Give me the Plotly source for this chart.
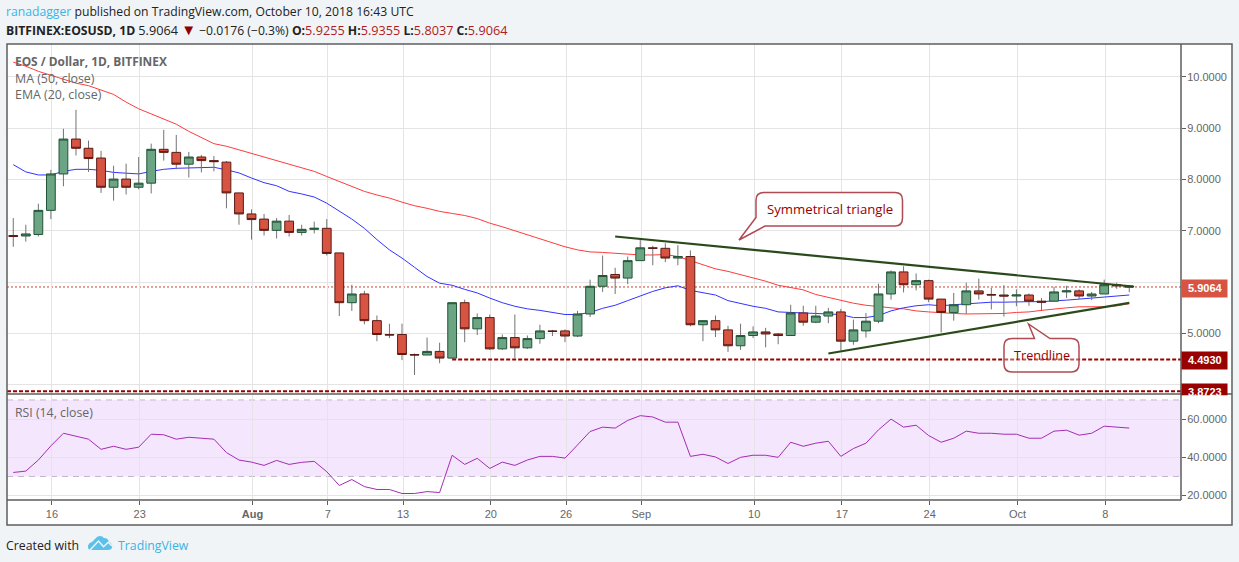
import pandas as pd
import plotly.graph_objects as go

W, H = 1239, 562
PANE_L, PANE_R, PANE_T, PANE_SPLIT, PANE_B = 7, 1181, 44, 394, 500
FRAME_R, FRAME_B = 1232, 525

dates = pd.date_range("2018-07-13", periods=90).strftime("%Y-%m-%d").tolist()

opens = [6.91, 6.90, 6.93, 7.40, 8.11, 8.79, 8.61, 8.42, 7.85, 8.01, 7.85, 7.93, 8.59, 8.53, 8.30, 8.44, 8.37, 8.34, 7.74,
         7.33, 7.23, 7.01, 7.19, 6.97, 7.03, 7.05, 6.57, 5.60, 5.77, 5.25, 4.98, 4.98, 4.59, 4.58, 4.65, 4.52, 5.60, 5.09, 5.31, 4.70, 4.92, 4.72, 4.90, 5.05, 5.05, 4.95, 5.38, 5.92, 6.15, 6.08,
         6.42, 6.67, 6.66, 6.47, 6.50, 5.17, 5.25, 5.07, 4.76, 4.96, 5.03, 4.99, 4.96, 5.40, 5.22, 5.34, 5.42, 4.85, 5.05, 5.24, 5.77, 6.20, 5.95, 6.03, 5.67, 5.41, 5.56, 5.83, 5.76, 5.75,
         5.73, 5.75, 5.63, 5.63, 5.81, 5.83, 5.73, 5.77, 5.95, 5.9255]
highs = [7.25, 7.12, 7.53, 8.19, 8.99, 9.36, 8.76, 8.56, 8.27, 8.31, 8.44, 8.70, 8.97, 8.87, 8.54, 8.48, 8.46, 8.36, 7.74,
         7.42, 7.33, 7.25, 7.31, 7.12, 7.18, 7.23, 6.57, 5.95, 5.83, 5.35, 5.19, 5.19, 4.61, 4.92, 4.82, 5.60, 5.66, 5.39, 5.37, 4.98, 5.37, 4.96, 5.17, 5.07, 5.08, 5.44, 6.05, 6.52, 6.28, 6.50,
         6.85, 6.71, 6.76, 6.72, 6.62, 5.25, 5.35, 5.15, 5.19, 5.14, 5.11, 5.01, 5.56, 5.54, 5.54, 5.50, 5.48, 5.27, 5.40, 5.97, 6.23, 6.31, 6.17, 6.05, 5.67, 5.79, 5.99, 6.07, 5.89, 5.94,
         5.86, 5.78, 5.69, 5.91, 5.93, 5.86, 5.81, 6.05, 5.99, 5.9355]
lows = [6.69, 6.79, 6.89, 7.23, 7.87, 8.47, 8.15, 7.74, 7.59, 7.71, 7.81, 7.73, 8.37, 8.20, 8.04, 8.14, 8.16, 7.44, 7.12,
        6.83, 6.91, 6.85, 6.89, 6.91, 6.95, 6.52, 5.34, 5.44, 5.18, 4.85, 4.91, 4.48, 4.19, 4.58, 4.42, 4.51, 4.83, 4.97, 4.68, 4.68, 4.52, 4.70, 4.80, 4.95, 4.83, 4.93, 5.32, 5.81, 5.77, 5.96,
        6.42, 6.33, 6.39, 6.33, 5.14, 4.85, 4.93, 4.64, 4.68, 4.91, 4.73, 4.79, 4.96, 5.15, 5.20, 5.20, 4.67, 4.78, 4.92, 5.20, 5.66, 5.80, 5.84, 5.61, 5.02, 5.25, 5.38, 5.66, 5.47, 5.33,
        5.53, 5.54, 5.44, 5.63, 5.69, 5.67, 5.65, 5.77, 5.87, 5.8037]
closes = [6.89, 6.94, 7.40, 8.11, 8.79, 8.61, 8.41, 7.85, 8.01, 7.85, 7.93, 8.59, 8.53, 8.30, 8.44, 8.37, 8.35, 7.74, 7.33,
          7.22, 7.01, 7.19, 6.97, 7.03, 7.05, 6.56, 5.60, 5.77, 5.25, 4.98, 4.97, 4.59, 4.58, 4.65, 4.52, 5.60, 5.09, 5.31, 4.70, 4.92, 4.72, 4.90, 5.05, 5.04, 4.95, 5.38, 5.92, 6.13, 6.08, 6.42,
          6.67, 6.66, 6.47, 6.50, 5.17, 5.25, 5.07, 4.76, 4.96, 5.03, 4.99, 4.96, 5.40, 5.22, 5.34, 5.42, 4.85, 5.07, 5.24, 5.77, 6.20, 5.95, 6.03, 5.67, 5.41, 5.56, 5.83, 5.77, 5.75, 5.73,
          5.75, 5.63, 5.61, 5.81, 5.83, 5.73, 5.77, 5.95, 5.93, 5.9064]

ema20 = [8.29, 8.15, 8.09, 8.09, 8.16, 8.20, 8.20, 8.18, 8.14, 8.12, 8.11, 8.16, 8.20, 8.22, 8.23, 8.24, 8.24, 8.19, 8.13,
         8.03, 7.94, 7.88, 7.77, 7.72, 7.66, 7.54, 7.38, 7.23, 7.05, 6.83, 6.63, 6.47, 6.29, 6.11, 5.98, 5.94, 5.86, 5.79, 5.69, 5.60, 5.53, 5.48, 5.45, 5.41, 5.37, 5.37, 5.41, 5.49, 5.55, 5.64,
         5.73, 5.82, 5.89, 5.93, 5.84, 5.80, 5.75, 5.64, 5.58, 5.53, 5.49, 5.42, 5.41, 5.40, 5.40, 5.39, 5.37, 5.31, 5.31, 5.35, 5.44, 5.50, 5.54, 5.56, 5.54, 5.56, 5.58, 5.59, 5.61, 5.61,
         5.62, 5.62, 5.62, 5.63, 5.65, 5.67, 5.69, 5.71, 5.73, 5.75]
ma50 = [10.29, 10.21, 10.11, 10.03, 9.95, 9.88, 9.83, 9.75, 9.66, 9.51, 9.38, 9.28, 9.18, 9.08, 8.94, 8.82, 8.70, 8.65, 8.58,
        8.52, 8.45, 8.37, 8.30, 8.24, 8.16, 8.06, 7.96, 7.87, 7.77, 7.70, 7.64, 7.56, 7.49, 7.44, 7.38, 7.34, 7.30, 7.24, 7.15, 7.08, 7.00, 6.93, 6.85, 6.77, 6.69, 6.63, 6.59, 6.58, 6.56, 6.54,
        6.53, 6.53, 6.54, 6.50, 6.42, 6.34, 6.26, 6.21, 6.15, 6.09, 6.02, 5.94, 5.90, 5.85, 5.76, 5.70, 5.65, 5.59, 5.55, 5.52, 5.50, 5.48, 5.44, 5.42, 5.40, 5.39, 5.38, 5.38, 5.38, 5.39,
        5.41, 5.42, 5.45, 5.48, 5.50, 5.52, 5.52, 5.52, 5.54, 5.58]
rsi = [32.1, 32.8, 38.6, 46.0, 52.6, 51.1, 49.5, 44.2, 45.8, 44.2, 45.3, 52.1, 51.8, 49.5, 50.5, 50.0, 49.5, 42.5, 38.6,
       37.5, 35.8, 38.4, 36.3, 37.4, 37.9, 32.5, 25.3, 28.4, 24.7, 23.2, 23.2, 21.1, 21.1, 22.1, 21.6, 41.1, 36.3, 39.5, 34.2, 37.5, 35.8, 38.6, 40.5, 40.5, 39.6, 46.5, 53.5, 55.8, 55.3, 59.3,
       61.8, 61.1, 58.4, 58.4, 40.5, 41.6, 40.2, 36.8, 40.0, 41.1, 41.1, 40.0, 47.9, 45.8, 47.4, 48.4, 40.5, 44.6, 47.4, 54.4, 60.0, 55.8, 56.8, 51.4, 47.9, 50.0, 53.7, 52.6, 52.6, 52.1,
       52.1, 50.0, 50.0, 53.7, 54.2, 51.6, 52.6, 56.3, 55.8, 55.3]

# grid sits about a pixel right of the candle centres in the original
time_ticks = ["2018-07-16 02:00", "2018-07-23 02:00", "2018-08-01 02:00", "2018-08-07 02:00", "2018-08-13 02:00",
              "2018-08-20 02:00", "2018-08-26 02:00", "2018-09-01 02:00", "2018-09-10 02:00", "2018-09-17 02:00",
              "2018-09-24 02:00", "2018-10-01 02:00", "2018-10-08 02:00"]
time_labels = ["16", "23", "<b>Aug</b>", "7", "13", "20", "26", "Sep", "10", "17", "24", "Oct", "8"]
price_ticks = [4, 5, 6, 7, 8, 9, 10]
# 4 and 6 are covered by the price boxes
price_labels = [" ", "5.0000", " ", "7.0000", "8.0000", "9.0000", "10.0000"]
rsi_ticks = [20, 40, 60]

last_price = 5.9064
support_high = 4.4930
support_low = 3.8723
upper_trend_x = ["2018-08-30", "2018-10-10 07:00"]
upper_trend_y = [6.89, 5.915]
lower_trend_x = ["2018-09-16", "2018-10-10"]
lower_trend_y = [4.61, 5.595]

x_range = ["2018-07-12 12:00", "2018-10-14 03:00"]
price_range = [3.82, 10.643]
rsi_range = [17.7, 72.6]

GREEN, GREEN_EDGE = "#6ba583", "#225437"
RED, RED_EDGE = "#d75442", "#5b1a13"
GRID = "#e4e4e4"
TXT = "#666666"
DARK_RED = "#990000"
FONT = "Open Sans"
AXIS_FONT = "Liberation Sans"


def px(x):
    return (x - PANE_L) / (PANE_R - PANE_L)


def py(y):
    return (PANE_B - y) / (PANE_B - PANE_T)


def pixel_path(cmds):
    # cmds are (letter, x, y, ...) in page pixels
    out = []
    for c in cmds:
        if c[0] == "Z":
            out.append("Z")
            continue
        nums = []
        for i in range(1, len(c), 2):
            nums.append(f"{px(c[i]):.5f},{py(c[i + 1]):.5f}")
        out.append(c[0] + " ".join(nums))
    return " ".join(out)


def paper_shape(**kw):
    return dict(xref="paper", yref="paper", **kw)


def label(x, y, text, size=12.4, color=TXT, family=FONT, anchor="left"):
    # annotations pad their text by 2px
    return dict(x=px(x - 2), y=py(y), xref="paper", yref="paper", text=text, showarrow=False,
                xanchor=anchor, yanchor="middle", align="left", font=dict(size=size, color=color, family=family))


def price_box(y0, y1, color):
    return dict(x=px(PANE_R), y=py(y0), xref="paper", yref="paper", text=" ", showarrow=False,
                xanchor="left", yanchor="top", width=45, height=y1 - y0, bgcolor=color, borderpad=0,
                font=dict(size=1))


def ohlc_value(v):
    return f'<span style="color:#b01c22;font-size:12.7px">{v}</span>'


fig = go.Figure()

# wicks first, bodies go on an overlaid axis so they sit over the moving averages
wick_x, wick_y = [], []
for d, h, l in zip(dates, highs, lows):
    wick_x += [d, d, None]
    wick_y += [l, h, None]

fig.add_trace(go.Scatter(x=dates, y=ma50, mode="lines", line=dict(color="#ff3b3b", width=1), yaxis="y", name="MA (50, close)"))
fig.add_trace(go.Scatter(x=dates, y=ema20, mode="lines", line=dict(color="#3333ff", width=1), yaxis="y", name="EMA (20, close)"))
fig.add_trace(go.Scatter(x=wick_x, y=wick_y, mode="lines", line=dict(color="#737375", width=1), yaxis="y3", hoverinfo="skip"))
fig.add_trace(go.Candlestick(
    x=dates, open=opens, close=closes,
    high=[max(o, c) for o, c in zip(opens, closes)],
    low=[min(o, c) for o, c in zip(opens, closes)],
    yaxis="y4",
    increasing=dict(fillcolor=GREEN, line=dict(color=GREEN_EDGE, width=1)),
    decreasing=dict(fillcolor=RED, line=dict(color=RED_EDGE, width=1)),
    whiskerwidth=0,
))
fig.add_trace(go.Scatter(x=dates, y=rsi, mode="lines", line=dict(color="#a52cb5", width=1), yaxis="y2", name="RSI (14, close)"))

shapes = [
    paper_shape(type="rect", x0=px(PANE_L), x1=px(FRAME_R), y0=py(PANE_T), y1=py(FRAME_B),
                fillcolor="white", line=dict(width=0), layer="below"),
    dict(type="rect", xref="x", yref="y2", x0=x_range[0], x1=x_range[1], y0=30, y1=70,
         fillcolor="#f4e6fd", line=dict(width=0), layer="below"),
    dict(type="line", xref="x", yref="y2", x0=x_range[0], x1=x_range[1], y0=70, y1=70,
         line=dict(color="#c3b6cc", width=1, dash="6px,5px"), layer="below"),
    dict(type="line", xref="x", yref="y2", x0=x_range[0], x1=x_range[1], y0=30, y1=30,
         line=dict(color="#c3b6cc", width=1, dash="6px,5px"), layer="below"),
    dict(type="line", xref="x", yref="y", x0=x_range[0], x1=x_range[1], y0=last_price, y1=last_price,
         line=dict(color="#c9402f", width=1, dash="2px,2px"), layer="below"),
    # drawings
    dict(type="line", xref="x", yref="y", x0=upper_trend_x[0], x1=upper_trend_x[1], y0=upper_trend_y[0], y1=upper_trend_y[1],
         line=dict(color="#2b4a1c", width=2.2)),
    dict(type="line", xref="x", yref="y", x0=lower_trend_x[0], x1=lower_trend_x[1], y0=lower_trend_y[0], y1=lower_trend_y[1],
         line=dict(color="#2b4a1c", width=2.2)),
    dict(type="line", xref="x", yref="y", x0="2018-08-17", x1=x_range[1], y0=support_high, y1=support_high,
         line=dict(color=DARK_RED, width=2, dash="4px,2px")),
    dict(type="line", xref="x", yref="y", x0=x_range[0], x1=x_range[1], y0=support_low, y1=support_low,
         line=dict(color=DARK_RED, width=2, dash="4px,2px")),
    # callouts
    paper_shape(type="path", fillcolor="rgba(255,255,255,0.85)", line=dict(color="#b04a52", width=1.5), path=pixel_path([
        ("M", 739, 240), ("L", 756, 217.5), ("L", 756, 200), ("Q", 756, 192.5, 764, 192.5), ("L", 895, 192.5),
        ("Q", 902.5, 192.5, 902.5, 200), ("L", 902.5, 218), ("Q", 902.5, 226, 895, 226), ("L", 765, 226), ("Z",)])),
    paper_shape(type="path", fillcolor="rgba(255,255,255,0.35)", line=dict(color="#b04a52", width=1.5), path=pixel_path([
        ("M", 1028.5, 324), ("L", 1034.5, 338.5), ("L", 1012, 338.5), ("Q", 1004, 338.5, 1004, 346), ("L", 1004, 364),
        ("Q", 1004, 372, 1012, 372), ("L", 1071, 372), ("Q", 1079, 372, 1079, 364), ("L", 1079, 346),
        ("Q", 1079, 338.5, 1071, 338.5), ("L", 1050, 338.5), ("Z",)])),
    # frame
    paper_shape(type="rect", x0=px(PANE_L), x1=px(FRAME_R), y0=py(PANE_T), y1=py(FRAME_B), line=dict(color="#5d5d5d", width=1.5)),
    paper_shape(type="line", x0=px(PANE_L), x1=px(FRAME_R), y0=py(PANE_SPLIT), y1=py(PANE_SPLIT), line=dict(color="#5d5d5d", width=1.5)),
    paper_shape(type="line", x0=px(PANE_R), x1=px(PANE_R), y0=py(PANE_T), y1=py(PANE_B), line=dict(color="#5d5d5d", width=1.5)),
    paper_shape(type="line", x0=px(PANE_L), x1=px(PANE_R), y0=py(PANE_B), y1=py(PANE_B), line=dict(color="#5d5d5d", width=1.5)),
    # logo
    paper_shape(type="path", fillcolor="#5ac0ec", line=dict(width=0), path=pixel_path([
        ("M", 88, 547), ("Q", 88, 543, 92, 542), ("L", 97, 537), ("Q", 101, 534.5, 104, 538), ("Q", 108, 538, 109, 542),
        ("Q", 113, 544, 112, 548), ("Q", 111, 550, 108, 550), ("L", 91, 550), ("Q", 88, 550, 88, 547), ("Z",)])),
    paper_shape(type="path", line=dict(color="#f1f4f7", width=1.5), path=pixel_path([
        ("M", 90, 550), ("L", 98.5, 541), ("L", 103.5, 546.7), ("L", 108.3, 542.3), ("L", 112, 546)])),
]

annotations = [
    label(6, 11.5, '<span style="color:#3bb3e4">ranadagger</span> published on TradingView.com, October 10, 2018 16:43 UTC', size=12.2, color="#222222"),
    label(6, 29.5, '<b>BITFINEX:EOSUSD, 1D</b> <span style="font-size:12.7px">5.9064</span>&nbsp;<span style="color:#8b0000;font-size:15px">▼</span>&nbsp;−0.0176 (−0.3%) '
                   f'<b>O:</b>{ohlc_value("5.9255")} <b>H:</b>{ohlc_value("5.9355")} '
                   f'<b>L:</b>{ohlc_value("5.8037")} <b>C:</b>{ohlc_value("5.9064")}', size=12.2, color="#222222"),
    label(15, 61, "<b>EOS / Dollar, 1D, BITFINEX</b>", size=11.9),
    label(15, 78, "MA (50, close)"),
    label(15, 95, "EMA (20, close)"),
    label(15, 412, "RSI (14, close)", size=12.3),
    label(766.5, 209, "Symmetrical triangle", size=13.2, color=DARK_RED),
    label(1014, 355, "Trendline", size=12.7, color=DARK_RED),
    label(6, 545, "Created with", size=12.3, color="#222222"),
    label(118, 545, "TradingView", size=12.3, color="#3bb3e4"),
]

# last price labels sit over the axis tick labels
for y0, y1, color, txt, yt in [(279, 296, RED, "5.9064", 287.5), (351, 368, DARK_RED, "4.4930", 359.5), (383, 394, DARK_RED, "3.8723", 391.5)]:
    annotations.append(price_box(y0, y1, color))
    annotations.append(label(1188, yt, f"<b>{txt}</b>", size=11, color="white", family=AXIS_FONT))
annotations.append(dict(x=px(PANE_R + 1), y=py(395), xref="paper", yref="paper", text=" ", showarrow=False, xanchor="left",
                        yanchor="top", width=45, height=5, bgcolor="white", borderpad=0, font=dict(size=1)))

fig.update_layout(
    width=W, height=H,
    margin=dict(l=PANE_L, r=W - PANE_R, t=PANE_T, b=H - PANE_B, pad=0),
    paper_bgcolor="#f1f4f7", plot_bgcolor="white",
    showlegend=False,
    hovermode=False,
    boxgap=0.3, boxgroupgap=0,
    font=dict(family=AXIS_FONT, size=11, color=TXT),
    shapes=shapes,
    annotations=annotations,
    xaxis=dict(range=x_range, type="date", anchor="y2", tickvals=time_ticks, ticktext=time_labels, tickangle=0,
               showgrid=True, gridcolor=GRID, gridwidth=1.3, ticks="outside", ticklen=4, tickcolor="#5d5d5d",
               zeroline=False, rangeslider=dict(visible=False), tickfont=dict(size=11, color=TXT, family=AXIS_FONT)),
    yaxis=dict(domain=[(PANE_B - PANE_SPLIT) / (PANE_B - PANE_T), 1], range=price_range, side="right", anchor="x",
               tickvals=price_ticks, ticktext=price_labels, showgrid=True, gridcolor=GRID, gridwidth=1.3, zeroline=False,
               ticks="outside", ticklen=4, tickcolor="#5d5d5d", ticklabelstandoff=-1, tickfont=dict(size=11, color=TXT, family=AXIS_FONT)),
    yaxis2=dict(domain=[0, (PANE_B - PANE_SPLIT - 1) / (PANE_B - PANE_T)], range=rsi_range, side="right", anchor="x",
                tickvals=rsi_ticks, tickformat=".4f", showgrid=True, gridcolor=GRID, gridwidth=1.3, zeroline=False,
                ticks="outside", ticklen=4, tickcolor="#5d5d5d", ticklabelstandoff=-1, tickfont=dict(size=11, color=TXT, family=AXIS_FONT)),
    yaxis3=dict(overlaying="y", range=price_range, side="right", anchor="x", showgrid=False, showticklabels=False, ticks="", zeroline=False),
    yaxis4=dict(overlaying="y", range=price_range, side="right", anchor="x", showgrid=False, showticklabels=False, ticks="", zeroline=False),
)

fig.write_html("out.html", config={"displayModeBar": False}, post_script="document.body.style.margin='0';")
